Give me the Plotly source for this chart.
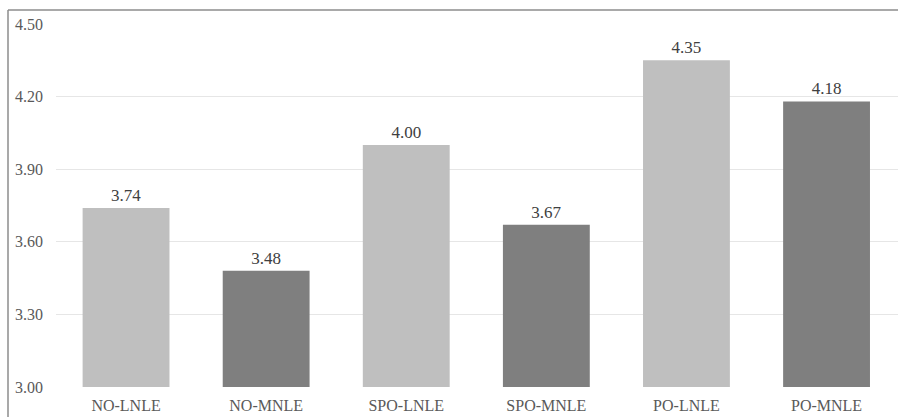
import plotly.graph_objects as go

# Mean scores per condition
categories = ["NO-LNLE", "NO-MNLE", "SPO-LNLE", "SPO-MNLE", "PO-LNLE", "PO-MNLE"]
values = [3.74, 3.48, 4.00, 3.67, 4.35, 4.18]
bar_colors = ["#bfbfbf", "#7f7f7f", "#bfbfbf", "#7f7f7f", "#bfbfbf", "#7f7f7f"]
y_ticks = [3.00, 3.30, 3.60, 3.90, 4.20, 4.50]
y_tick_text = ["3.00", "3.30", "3.60", "3.90", "4.20", "4.50"]

W, H = 898, 417
L, R, T, B = 56, 0, 24, 30
SERIF = "Liberation Serif"

fig = go.Figure(
    go.Bar(
        x=categories,
        y=values,
        base=0,
        marker=dict(color=bar_colors, line=dict(width=0)),
        text=[f"{v:.2f}" for v in values],
        textposition="outside",
        textfont=dict(family=SERIF, size=17, color="#404040"),
        cliponaxis=False,
    )
)

fig.update_layout(
    width=W,
    height=H,
    margin=dict(l=L, r=R, t=T, b=B),
    paper_bgcolor="white",
    plot_bgcolor="white",
    bargap=0.38,
    showlegend=False,
    font=dict(family=SERIF, size=16, color="#595959"),
    xaxis=dict(
        range=[-0.5, 5.51],
        showgrid=False,
        showline=False,
        ticks="",
        ticklabelstandoff=7,
        tickfont=dict(family=SERIF, size=16, color="#595959"),
    ),
    yaxis=dict(
        range=[3.0, 4.5],
        tickvals=y_ticks,
        ticktext=y_tick_text,
        showgrid=True,
        gridcolor="#e6e6e6",
        gridwidth=1,
        zeroline=False,
        showline=False,
        ticks="",
        ticklabelstandoff=12,
        tickfont=dict(family=SERIF, size=16, color="#595959"),
    ),
)

# Outer frame (left and top edges)
pw = W - L - R
ph = H - T - B
fx = (8 - L) / pw
fy = (H - B - 10) / ph
fig.add_shape(type="line", xref="paper", yref="paper",
              x0=fx, x1=1.0, y0=fy, y1=fy,
              line=dict(color="#8c8c8c", width=1.5))
fig.add_shape(type="line", xref="paper", yref="paper",
              x0=fx, x1=fx, y0=fy, y1=-0.2,
              line=dict(color="#8c8c8c", width=1.5))

fig.write_html("out.html")
